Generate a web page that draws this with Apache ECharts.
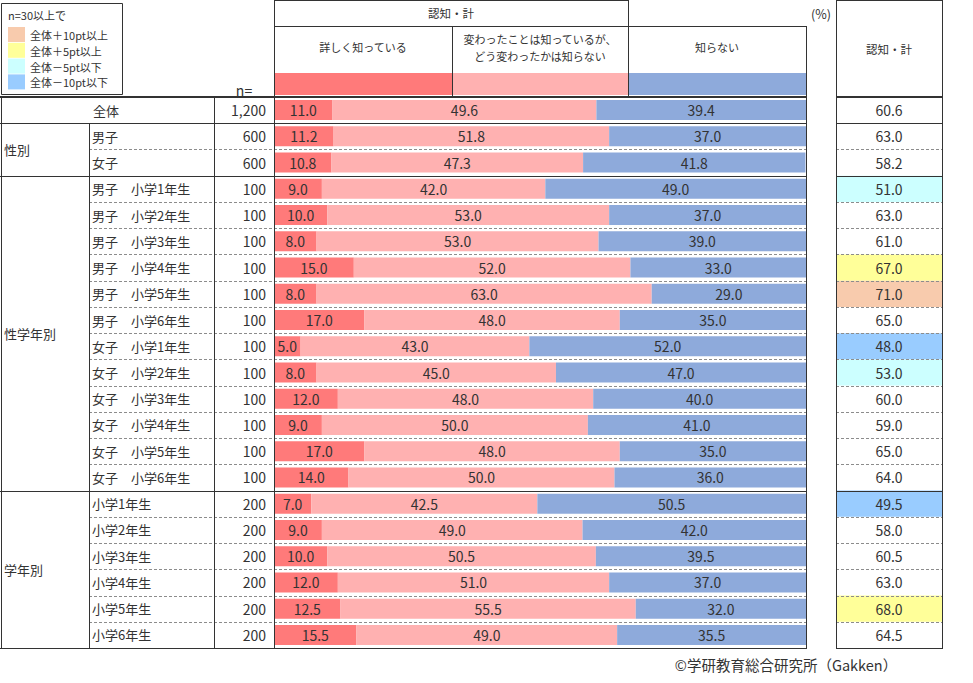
<!DOCTYPE html>
<html lang="ja">
<head>
<meta charset="utf-8">
<title>認知・計</title>
<script src="https://cdn.jsdelivr.net/npm/echarts@6/dist/echarts.min.js"></script>
<style>
    html, body { margin: 0; padding: 0; background: #fff; }
    #chart { width: 973px; height: 683px; }
</style>
</head>
<body>
<div id="chart"></div>
<script>
const FONT = '"Noto Sans CJK JP", "Noto Sans", sans-serif';
const TEXT_COLOR = '#333';

// rows of the table
const rowLabels = [
    '全体',
    '男子', '女子',
    '男子　小学1年生', '男子　小学2年生', '男子　小学3年生', '男子　小学4年生', '男子　小学5年生', '男子　小学6年生',
    '女子　小学1年生', '女子　小学2年生', '女子　小学3年生', '女子　小学4年生', '女子　小学5年生', '女子　小学6年生',
    '小学1年生', '小学2年生', '小学3年生', '小学4年生', '小学5年生', '小学6年生'
];
const rowN = [1200, 600, 600, 100, 100, 100, 100, 100, 100, 100, 100, 100, 100, 100, 100, 200, 200, 200, 200, 200, 200];

const groupLabels = ['性別', '性学年別', '学年別'];
const groupStartRows = [1, 3, 15];
const groupEndRows = [3, 15, 21];

// series
const seriesNames = ['詳しく知っている', '変わったことは知っているが、\nどう変わったかは知らない', '知らない'];
const detailValues = [11.0, 11.2, 10.8, 9.0, 10.0, 8.0, 15.0, 8.0, 17.0, 5.0, 8.0, 12.0, 9.0, 17.0, 14.0, 7.0, 9.0, 10.0, 12.0, 12.5, 15.5];
const changedValues = [49.6, 51.8, 47.3, 42.0, 53.0, 53.0, 52.0, 63.0, 48.0, 43.0, 45.0, 48.0, 50.0, 48.0, 50.0, 42.5, 49.0, 50.5, 51.0, 55.5, 49.0];
const unknownValues = [39.4, 37.0, 41.8, 49.0, 37.0, 39.0, 33.0, 29.0, 35.0, 52.0, 47.0, 40.0, 41.0, 35.0, 36.0, 50.5, 42.0, 39.5, 37.0, 32.0, 35.5];
const awareTotals = [60.6, 63.0, 58.2, 51.0, 63.0, 61.0, 67.0, 71.0, 65.0, 48.0, 53.0, 60.0, 59.0, 65.0, 64.0, 49.5, 58.0, 60.5, 63.0, 68.0, 64.5];

const legendLabels = ['全体＋10pt以上', '全体＋5pt以上', '全体－5pt以下', '全体－10pt以下'];

const SERIES_COLORS = ['#ff7a7a', '#ffb1b1', '#8eaadb'];
const HIGHLIGHT_COLORS = ['#f8cbad', '#ffff99', '#ccffff', '#99ccff'];

// layout
const TABLE_TOP = 97;
const TABLE_BOTTOM = 648;
const ROW_H = (TABLE_BOTTOM - TABLE_TOP) / rowLabels.length;
const COL_LABEL = 89;
const COL_N = 214;
const BAR_LEFT = 274;
const BAR_RIGHT = 806;
const HEAD_SPLIT_1 = 452;
const HEAD_SPLIT_2 = 628;
const TOTAL_LEFT = 836;
const TOTAL_RIGHT = 942;
const NUM_SIZE = 14;

function rowY(k) {
    return TABLE_TOP + k * ROW_H;
}

function highlightColor(index) {
    if (index === 0 || rowN[index] < 30) {
        return null;
    }
    const diff = awareTotals[index] - awareTotals[0];
    if (diff >= 10) return HIGHLIGHT_COLORS[0];
    if (diff >= 5) return HIGHLIGHT_COLORS[1];
    if (diff <= -10) return HIGHLIGHT_COLORS[3];
    if (diff <= -5) return HIGHLIGHT_COLORS[2];
    return null;
}

function line(x1, y1, x2, y2, width = 1, dashed = false) {
    const style = { stroke: dashed ? '#8c8c8c' : '#333', lineWidth: width };
    if (dashed) {
        style.lineDash = [3, 2];
    }
    return { type: 'line', silent: true, z: 10, shape: { x1, y1, x2, y2 }, style };
}

function label(x, y, str, extra = {}) {
    return {
        type: 'text',
        silent: true,
        z: 11,
        x,
        y,
        style: Object.assign({
            text: str,
            fill: TEXT_COLOR,
            fontSize: 13,
            fontFamily: FONT,
            align: 'center',
            verticalAlign: 'middle'
        }, extra)
    };
}

function rect(x, y, width, height, fill, stroke) {
    return {
        type: 'rect',
        silent: true,
        z: 1,
        shape: { x, y, width, height },
        style: { fill: fill || 'none', stroke: stroke || null, lineWidth: 1 }
    };
}

function buildLegendBox() {
    const items = [rect(1.5, 3.5, 121, 91, '#fff', '#333'), label(8, 15, 'n=30以上で', { align: 'left', fontSize: 11 })];
    legendLabels.forEach((text, i) => {
        const top = 27 + i * 15.8;
        items.push(rect(8, top, 17, 15, HIGHLIGHT_COLORS[i]));
        items.push(label(30, top + 8, text, { align: 'left', fontSize: 11 }));
    });
    return items;
}

function buildHeader() {
    const items = [];
    const splits = [BAR_LEFT, HEAD_SPLIT_1, HEAD_SPLIT_2, BAR_RIGHT];

    // colour keys under the column titles
    for (let i = 0; i < 3; i++) {
        items.push(rect(splits[i], 73, splits[i + 1] - splits[i], 22, SERIES_COLORS[i]));
        items.push(label((splits[i] + splits[i + 1]) / 2, 47, seriesNames[i], { fontSize: 11, lineHeight: 17 }));
    }

    items.push(label((BAR_LEFT + HEAD_SPLIT_2) / 2, 13, '認知・計', { fontSize: 11.5 }));
    items.push(label((TOTAL_LEFT + TOTAL_RIGHT) / 2, 49, '認知・計', { fontSize: 11.5 }));
    items.push(label(821, 13, '(%)', { fontSize: 12.5 }));
    items.push(label(244, 90, 'n=', { fontSize: 14 }));

    items.push(line(BAR_LEFT, 0.5, HEAD_SPLIT_2, 0.5));
    items.push(line(BAR_LEFT, 26.5, BAR_RIGHT, 26.5));
    items.push(line(BAR_LEFT + 0.5, 0, BAR_LEFT + 0.5, TABLE_TOP));
    items.push(line(HEAD_SPLIT_1 + 0.5, 26, HEAD_SPLIT_1 + 0.5, TABLE_TOP));
    items.push(line(HEAD_SPLIT_2 + 0.5, 0, HEAD_SPLIT_2 + 0.5, TABLE_TOP));
    items.push(line(BAR_RIGHT + 0.5, 26, BAR_RIGHT + 0.5, TABLE_TOP));
    items.push(line(TOTAL_LEFT + 0.5, 0.5, TOTAL_RIGHT + 0.5, 0.5));
    items.push(line(TOTAL_LEFT + 0.5, 0, TOTAL_LEFT + 0.5, TABLE_TOP));
    items.push(line(TOTAL_RIGHT + 0.5, 0, TOTAL_RIGHT + 0.5, TABLE_TOP));
    return items;
}

function buildTableLines() {
    const items = [];
    const solidRows = new Set([...groupStartRows, ...groupEndRows]);

    items.push(line(0, TABLE_TOP, BAR_RIGHT + 1, TABLE_TOP, 2));
    items.push(line(TOTAL_LEFT, TABLE_TOP, TOTAL_RIGHT + 1, TABLE_TOP, 2));

    for (let k = 1; k <= rowLabels.length; k++) {
        const y = Math.round(rowY(k)) + 0.5;
        if (solidRows.has(k)) {
            items.push(line(0, y, BAR_RIGHT + 1, y));
            items.push(line(TOTAL_LEFT, y, TOTAL_RIGHT + 1, y));
        } else {
            items.push(line(COL_LABEL, y, BAR_RIGHT, y, 1, true));
            items.push(line(TOTAL_LEFT, y, TOTAL_RIGHT, y, 1, true));
        }
    }

    const bottom = Math.round(rowY(rowLabels.length)) + 0.5;
    items.push(line(1.5, TABLE_TOP, 1.5, bottom));
    items.push(line(COL_LABEL + 0.5, rowY(1), COL_LABEL + 0.5, bottom));
    items.push(line(COL_N + 0.5, TABLE_TOP, COL_N + 0.5, bottom));
    items.push(line(BAR_LEFT + 0.5, TABLE_TOP, BAR_LEFT + 0.5, bottom));
    items.push(line(BAR_RIGHT + 0.5, TABLE_TOP, BAR_RIGHT + 0.5, bottom));
    items.push(line(TOTAL_LEFT + 0.5, TABLE_TOP, TOTAL_LEFT + 0.5, bottom));
    items.push(line(TOTAL_RIGHT + 0.5, TABLE_TOP, TOTAL_RIGHT + 0.5, bottom));

    groupLabels.forEach((name, i) => {
        const y = (rowY(groupStartRows[i]) + rowY(groupEndRows[i])) / 2;
        items.push(label(4, y, name, { align: 'left' }));
    });

    items.push(label(786, 664, '©学研教育総合研究所（Gakken）', { fontSize: 14.5 }));
    return items;
}

function formatRowLabel(value, index) {
    const n = rowN[index].toLocaleString('en-US');
    if (index === 0) {
        return `{all|${value}}{n|${n}}`;
    }
    return `{lab|${value}}{n|${n}}`;
}

function buildBarSeries(name, values, color) {
    return {
        name,
        type: 'bar',
        stack: 'aware',
        barWidth: 20,
        data: values,
        itemStyle: { color },
        label: {
            show: true,
            position: 'inside',
            color: TEXT_COLOR,
            fontSize: NUM_SIZE,
            fontFamily: FONT,
            formatter: (p) => p.value.toFixed(1)
        },
        silent: true
    };
}

function renderTotalCell(params, api) {
    const index = api.value(1);
    const [, cy] = api.coord([0, index]);
    const h = api.size([0, 1])[1];
    const cs = params.coordSys;
    const fill = highlightColor(index);
    const children = [];
    if (fill) {
        children.push({ type: 'rect', shape: { x: cs.x, y: cy - h / 2, width: cs.width, height: h }, style: { fill } });
    }
    children.push({
        type: 'text',
        x: cs.x + cs.width / 2,
        y: cy,
        style: {
            text: api.value(2).toFixed(1),
            fill: TEXT_COLOR,
            fontSize: NUM_SIZE,
            fontFamily: FONT,
            align: 'center',
            verticalAlign: 'middle'
        }
    });
    return { type: 'group', children };
}

function buildOption() {
    const hiddenAxis = { show: false };
    const richBase = { fontFamily: FONT, color: TEXT_COLOR };
    return {
        backgroundColor: '#fff',
        animation: false,
        grid: [
            { left: BAR_LEFT, top: TABLE_TOP, width: BAR_RIGHT - BAR_LEFT, height: TABLE_BOTTOM - TABLE_TOP },
            { left: TOTAL_LEFT, top: TABLE_TOP, width: TOTAL_RIGHT - TOTAL_LEFT, height: TABLE_BOTTOM - TABLE_TOP }
        ],
        xAxis: [
            Object.assign({ type: 'value', min: 0, max: 100, gridIndex: 0, splitLine: { show: false } }, hiddenAxis),
            Object.assign({ type: 'value', min: 0, max: 1, gridIndex: 1, splitLine: { show: false } }, hiddenAxis)
        ],
        yAxis: [
            {
                type: 'category',
                gridIndex: 0,
                inverse: true,
                data: rowLabels,
                axisLine: { show: false },
                axisTick: { show: false },
                splitLine: { show: false },
                axisLabel: {
                    interval: 0,
                    margin: 8,
                    color: TEXT_COLOR,
                    fontFamily: FONT,
                    fontSize: 13,
                    formatter: formatRowLabel,
                    rich: {
                        all: Object.assign({ width: COL_N + 2, align: 'center', fontSize: 13 }, richBase),
                        lab: Object.assign({ width: COL_N - 92, align: 'left', fontSize: 13 }, richBase),
                        n: Object.assign({ width: BAR_LEFT - 8 - COL_N, align: 'right', fontSize: NUM_SIZE }, richBase)
                    }
                }
            },
            Object.assign({ type: 'category', gridIndex: 1, inverse: true, data: rowLabels }, hiddenAxis)
        ],
        series: [
            buildBarSeries(seriesNames[0], detailValues, SERIES_COLORS[0]),
            buildBarSeries(seriesNames[1], changedValues, SERIES_COLORS[1]),
            buildBarSeries(seriesNames[2], unknownValues, SERIES_COLORS[2]),
            {
                name: '認知・計',
                type: 'custom',
                xAxisIndex: 1,
                yAxisIndex: 1,
                silent: true,
                renderItem: renderTotalCell,
                encode: { x: 0, y: 1 },
                data: awareTotals.map((v, i) => [0, i, v])
            }
        ],
        graphic: [...buildLegendBox(), ...buildHeader(), ...buildTableLines()]
    };
}

const chart = echarts.init(document.getElementById('chart'), null, { renderer: 'svg' });
chart.setOption(buildOption());
</script>
</body>
</html>
